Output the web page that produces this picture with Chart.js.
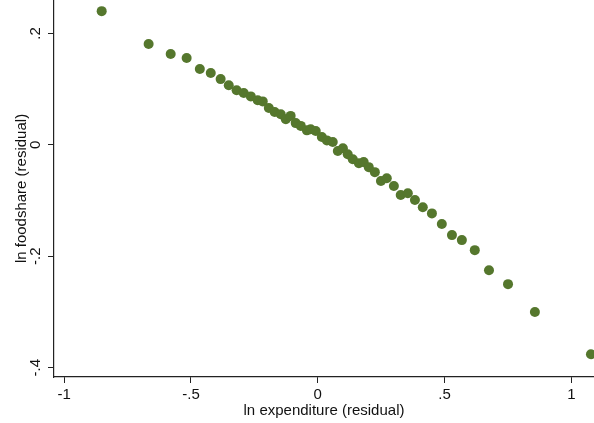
<!DOCTYPE html>
<html>
<head>
<meta charset="utf-8">
<script src="https://cdn.jsdelivr.net/npm/chart.js@4/dist/chart.umd.min.js"></script>
<style>
  html, body { margin: 0; padding: 0; background: #fff; }
  #wrap { width: 594px; height: 423px; }
</style>
</head>
<body>
<div id="wrap"><canvas id="residChart" width="594" height="423"></canvas></div>
<script>
// binned residuals
const expResid = [
	-0.852, -0.667, -0.580, -0.517, -0.465, -0.422, -0.383, -0.351, -0.320, -0.292,
	-0.264, -0.237, -0.217, -0.193, -0.170, -0.146, -0.126, -0.107, -0.087, -0.067,
	-0.043, -0.028, -0.008, 0.016, 0.036, 0.059, 0.079, 0.099, 0.118, 0.138,
	0.162, 0.181, 0.201, 0.225, 0.249, 0.272, 0.300, 0.327, 0.355, 0.383,
	0.414, 0.450, 0.489, 0.529, 0.568, 0.619, 0.675, 0.750, 0.856, 1.077
];
const foodResid = [
	0.240, 0.181, 0.163, 0.156, 0.136, 0.129, 0.118, 0.107, 0.098, 0.093,
	0.087, 0.080, 0.078, 0.066, 0.059, 0.055, 0.046, 0.052, 0.039, 0.034,
	0.026, 0.028, 0.025, 0.014, 0.008, 0.005, -0.011, -0.006, -0.017, -0.026,
	-0.033, -0.031, -0.040, -0.049, -0.065, -0.060, -0.074, -0.090, -0.087, -0.099,
	-0.112, -0.123, -0.142, -0.162, -0.171, -0.189, -0.225, -0.250, -0.300, -0.376
];

const xTicks = [-1, -0.5, 0, 0.5, 1];
const xTickLabels = ['-1', '-.5', '0', '.5', '1'];
const yTicks = [-0.4, -0.2, 0, 0.2];
const yTickLabels = ['-.4', '-.2', '0', '.2'];

const xTitle = 'ln expenditure (residual)';
const yTitle = 'ln foodshare (residual)';

const dotColor = '#55772d';
const axisFont = { family: "'Liberation Sans', Arial, Helvetica, sans-serif", size: 15 };

const points = expResid.map((x, i) => ({ x: x, y: foodResid[i] }));

function labelFor(ticks, labels) {
	return function(value) {
		const idx = ticks.findIndex(t => Math.abs(t - value) < 1e-9);
		return idx >= 0 ? labels[idx] : '';
	};
}

// plot region runs right to the canvas edge, so drop the label overflow padding
function noEdgePadding(s) {
	s.paddingTop = 0;
	s.paddingBottom = 0;
	s.paddingLeft = 0;
	s.paddingRight = 0;
}

const ctx = document.getElementById('residChart').getContext('2d');
new Chart(ctx, {
	type: 'scatter',
	data: {
		datasets: [{
			data: points,
			backgroundColor: dotColor,
			borderWidth: 0,
			pointRadius: 5,
			pointHoverRadius: 5,
			clip: false
		}]
	},
	options: {
		responsive: false,
		animation: false,
		events: [],
		layout: { padding: 0, autoPadding: false },
		plugins: { legend: { display: false }, tooltip: { enabled: false } },
		scales: {
			x: {
				type: 'linear',
				min: -1.04,
				max: 1.089,
				afterBuildTicks: s => { s.ticks = xTicks.map(v => ({ value: v })); },
				afterFit: s => { s.height = 46; noEdgePadding(s); },
				grid: { drawOnChartArea: false, drawTicks: true, tickLength: 6, color: '#222', lineWidth: 1 },
				border: { display: true, color: '#222', width: 1.2 },
				ticks: {
					color: '#111', font: axisFont, padding: 3,
					maxRotation: 0, autoSkip: false,
					callback: labelFor(xTicks, xTickLabels)
				},
				title: { display: true, text: xTitle, color: '#111', font: axisFont, padding: { top: 0, bottom: 3 } }
			},
			y: {
				type: 'linear',
				min: -0.4167,
				max: 0.26,
				afterBuildTicks: s => { s.ticks = yTicks.map(v => ({ value: v })); },
				afterFit: s => { s.width = 54; noEdgePadding(s); },
				grid: { drawOnChartArea: false, drawTicks: true, tickLength: 6, color: '#222', lineWidth: 1 },
				border: { display: true, color: '#222', width: 1.2 },
				ticks: {
					color: '#111', font: axisFont, padding: 3,
					minRotation: 90, maxRotation: 90, crossAlign: 'center', autoSkip: false,
					callback: labelFor(yTicks, yTickLabels)
				},
				title: { display: true, text: yTitle, color: '#111', font: axisFont, padding: { top: 13, bottom: 0 } }
			}
		}
	}
});
</script>
</body>
</html>
